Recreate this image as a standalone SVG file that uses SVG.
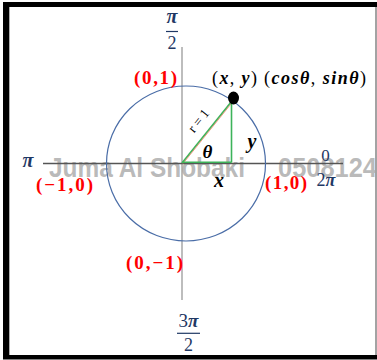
<svg xmlns="http://www.w3.org/2000/svg" width="377" height="360" viewBox="0 0 377 360">
<style>
.m{font-family:"Liberation Serif",serif;font-weight:bold;font-style:italic}
.r{font-family:"Liberation Serif",serif;font-weight:bold;fill:#FF0000}
.n{fill:#1F3864}
.num{font-family:"Liberation Serif",serif;fill:#1F3864}
.wm{font-family:"Liberation Sans",Arial,sans-serif;font-weight:bold;fill:#a3a3a3;fill-opacity:0.75;font-size:27px}
.g{stroke:#3DB35A;stroke-width:1.6;fill:none}
</style>
<rect width="377" height="360" fill="#fff"/>
<g id="frame">
<rect x="3" y="2" width="6" height="357" fill="#000"/>
<rect x="3" y="2" width="374" height="5" fill="#000"/>
<rect x="3" y="355" width="374" height="4.5" fill="#000"/>
<line x1="376" y1="7" x2="376" y2="355" stroke="#666" stroke-width="1.2"/>
<line x1="9.5" y1="7" x2="9.5" y2="355" stroke="#999" stroke-width="0.8"/>
</g>
<g id="watermark">
<text class="wm" x="49" y="177" textLength="196" lengthAdjust="spacingAndGlyphs">Juma Al Shobaki</text>
<text class="wm" x="278" y="177" textLength="99" lengthAdjust="spacingAndGlyphs">0508124</text>
</g>
<g id="connectors">
<line x1="182" y1="47" x2="182" y2="300" stroke="#9a9a9a" stroke-width="1.3"/>
<line x1="43" y1="163.5" x2="343" y2="163.5" stroke="#555" stroke-width="1.3"/>
<ellipse cx="186" cy="163.5" rx="79.5" ry="77.5" fill="none" stroke="#4A6DA7" stroke-width="1.2"/>
<line class="g" x1="182" y1="163" x2="231.5" y2="101.5"/>
<line x1="183" y1="163.5" x2="232.3" y2="102.3" stroke="#E8704A" stroke-width="0.7"/>
<line class="g" x1="231.5" y1="101.5" x2="231.5" y2="162.5"/>
<line class="g" x1="182" y1="162.3" x2="231.5" y2="162.3"/>
</g>
<g id="point">
<ellipse cx="233.5" cy="98" rx="5.5" ry="6.5" fill="#000"/>
</g>
<g id="angle-pi-half">
<text class="m n" x="172" y="23" font-size="20" text-anchor="middle">π</text>
<line x1="166" y1="31.5" x2="178" y2="31.5" stroke="#1F3864" stroke-width="1.2"/>
<text class="num" x="172" y="48.5" font-size="18" text-anchor="middle">2</text>
</g>
<g id="angle-pi">
<text class="m n" x="28" y="167" font-size="20" text-anchor="middle">π</text>
</g>
<g id="angle-zero">
<text class="num" x="325.5" y="161" font-size="17" text-anchor="middle">0</text>
<text x="326" y="186" font-size="18" text-anchor="middle" class="num">2<tspan class="m n">π</tspan></text>
</g>
<g id="angle-3pi-half">
<text x="188.5" y="327" font-size="19" text-anchor="middle" class="num">3<tspan class="m n">π</tspan></text>
<line x1="177" y1="333.3" x2="200" y2="333.3" stroke="#1F3864" stroke-width="1.2"/>
<text class="num" x="188.5" y="351" font-size="18" text-anchor="middle">2</text>
</g>
<g id="pt-0-1">
<text class="r" x="134" y="84" font-size="19" textLength="43" lengthAdjust="spacing">(0,1)</text>
</g>
<g id="pt-m1-0">
<text class="r" x="36" y="190.5" font-size="19" textLength="57" lengthAdjust="spacing">(−1,0)</text>
</g>
<g id="pt-1-0">
<text class="r" x="265" y="188.5" font-size="19" textLength="42" lengthAdjust="spacing">(1,0)</text>
</g>
<g id="pt-0-m1">
<text class="r" x="126" y="268.5" font-size="19" textLength="57" lengthAdjust="spacing">(0,−1)</text>
</g>
<g id="point-label">
<text x="212" y="84" font-size="18" font-family="Liberation Serif, serif" textLength="45" lengthAdjust="spacing">(<tspan class="m">x</tspan>, <tspan class="m">y</tspan>)</text>
<text x="264" y="84" font-size="18" font-family="Liberation Serif, serif" textLength="102" lengthAdjust="spacing">(<tspan class="m">cosθ</tspan>, <tspan class="m">sinθ</tspan>)</text>
</g>
<g id="triangle-labels">
<text class="m" x="207.5" y="158" font-size="19" text-anchor="middle">θ</text>
<text class="m" x="252" y="148" font-size="20" text-anchor="middle">y</text>
<text class="m" x="219" y="187" font-size="20" text-anchor="middle">x</text>
<text x="0" y="0" font-size="13.5" font-family="Liberation Serif, serif" text-anchor="middle" transform="translate(202,123.5) rotate(-51.4)">r = 1</text>
</g>
</svg>
